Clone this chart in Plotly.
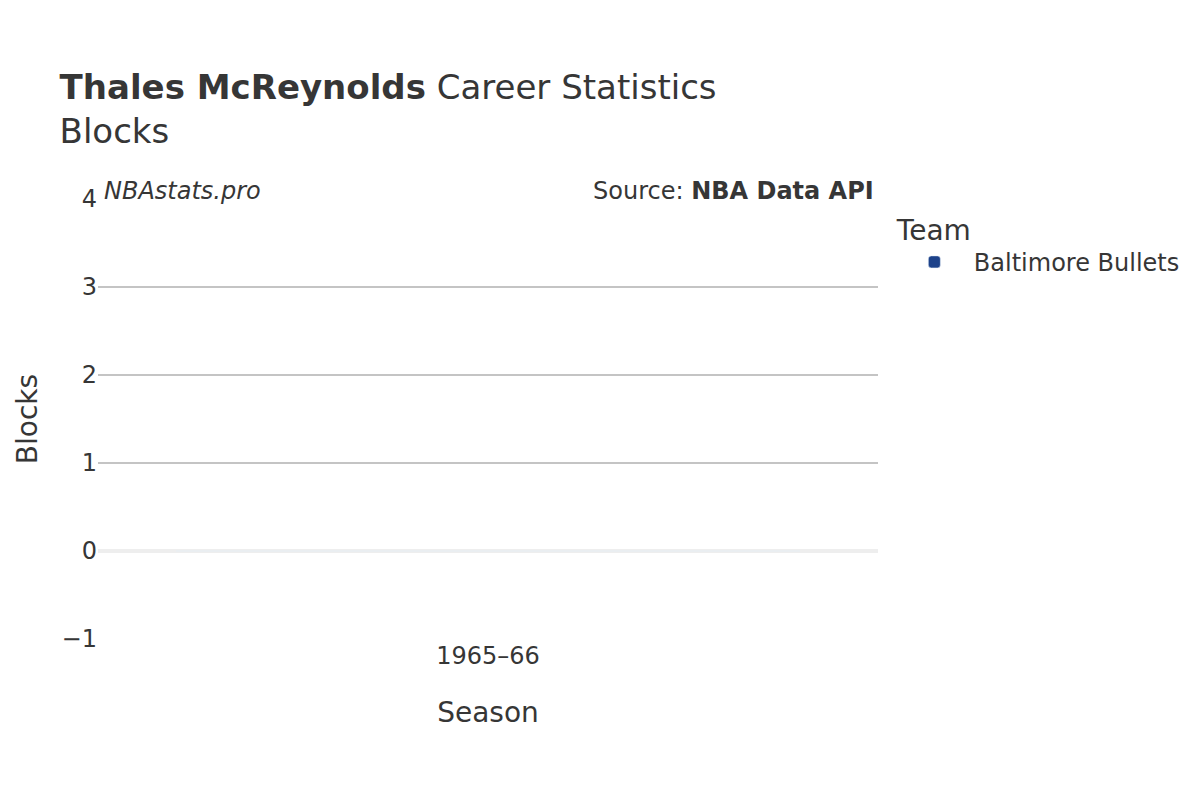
import plotly.graph_objects as go

# data
seasons = ["1965–66"]
teams = ["Baltimore Bullets"]
blocks = [0]
team_colors = {"Baltimore Bullets": "#1d428a"}

fig = go.Figure()

for team in teams:
    fig.add_trace(go.Bar(
        x=seasons,
        y=blocks,
        name=team,
        showlegend=True,
        marker=dict(color=team_colors[team], cornerradius=3),
    ))

fig.update_layout(
    width=1200,
    height=800,
    font=dict(family="DejaVu Sans", color="#363636", size=24),
    title=dict(
        text="<b>Thales McReynolds</b> Career Statistics<br>Blocks",
        x=0.043, xanchor="left",
        y=0.886, yanchor="top",
        font=dict(size=34),
    ),
    plot_bgcolor="white",
    paper_bgcolor="white",
    showlegend=True,
    margin=dict(l=90, r=330, t=191, b=169),
    legend=dict(
        title=dict(text="Team", font=dict(size=28)),
        font=dict(size=24),
        itemwidth=69,
        x=1.0216, y=0.99, yanchor="top",
    ),
    xaxis=dict(
        title=dict(text="Season", font=dict(size=28), standoff=33),
        automargin=False,
        showgrid=False,
    ),
    yaxis=dict(
        title=dict(text="Blocks", font=dict(size=28)),
        automargin=False,
        range=[-1, 4],
        dtick=1,
        gridcolor="#c4c4c4",
        gridwidth=1.5,
        zeroline=True,
        zerolinecolor="#eeeeee",
        zerolinewidth=4,
    ),
    annotations=[
        dict(text="<i>NBAstats.pro</i>", xref="paper", yref="paper",
             x=0.0, y=1.0, xanchor="left", yanchor="middle", yshift=8, xshift=4,
             showarrow=False, font=dict(size=24)),
        dict(text="Source: <b>NBA Data API</b>", xref="paper", yref="paper",
             x=1.0, y=1.0, xanchor="right", yanchor="middle", yshift=8, xshift=-2,
             showarrow=False, font=dict(size=24)),
    ],
)

fig.write_html("out.html")
